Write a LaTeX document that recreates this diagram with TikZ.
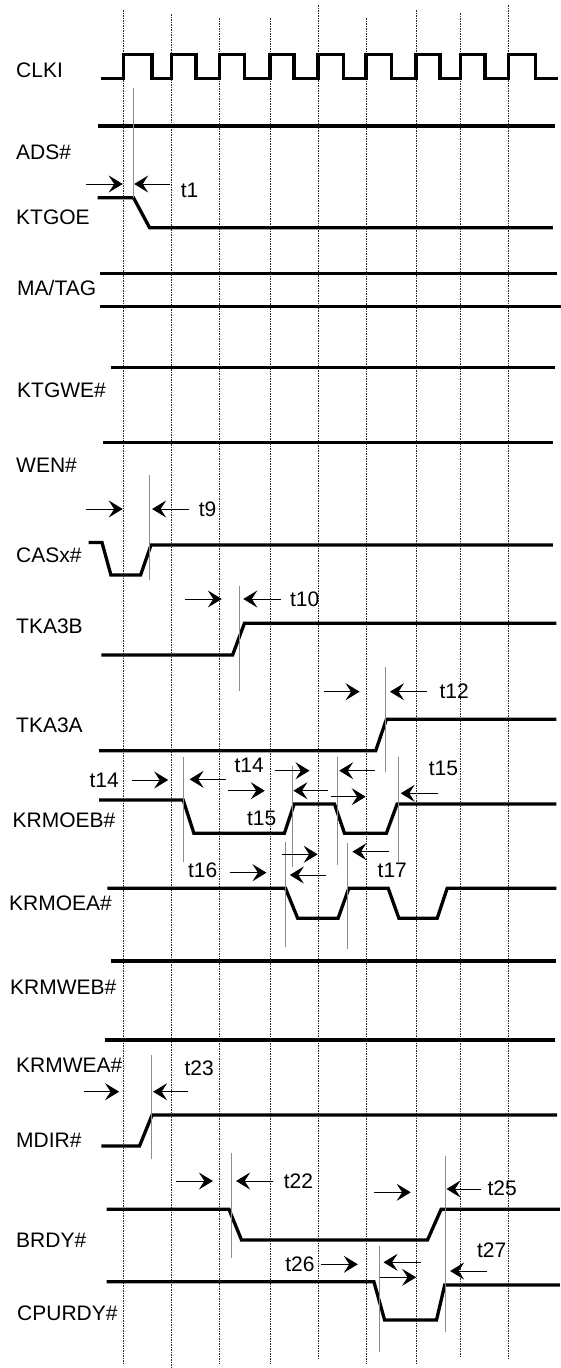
\documentclass[tikz,border=0pt]{standalone}
\usepackage{fontspec}
\setmainfont{Liberation Sans}
\usetikzlibrary{arrows.meta}
\begin{document}
\begin{tikzpicture}[x=1pt,y=-1pt,
 sigline/.style={line width=3.3pt, line join=miter, line cap=butt},
 gridline/.style={line width=0.9pt, dash pattern=on 1.5pt off 1pt, black!85},
 refline/.style={line width=1.1pt, black!45},
 dimarrow/.style={line width=0.9pt, -{Stealth[length=14pt,width=17pt,inset=5.5pt]}},
 lbl/.style={anchor=west, inner sep=0pt, font=\fontsize{21}{21}\selectfont, text height=15pt, text depth=0pt}]
\useasboundingbox (0,0) rectangle (561,1368);

% grid
\foreach \x/\a/\b in {123.4/10/1364, 171.7/14/1368, 219.3/18/1364, 270.1/18/1364, 318.1/5/1360, 366/18/1364, 416.1/10/1364, 460.5/13/1357, 508.4/5/1360}
  \draw[gridline] (\x,\a) -- (\x,\b);

% signal labels
\node[lbl] (lclk) at (16,70) {CLKI};
\node[lbl] (lads) at (16,152) {ADS\#};
\node[lbl] (lktgoe) at (16,217) {KTGOE};
\node[lbl] (lma) at (17,288.3) {MA/TAG};
\node[lbl] (lktgwe) at (17,390) {KTGWE\#};
\node[lbl] (lwen) at (16,465) {WEN\#};
\node[lbl] (lcas) at (16,555) {CASx\#};
\node[lbl] (ltkb) at (16,626) {TKA3B};
\node[lbl] (ltka) at (16,725) {TKA3A};
\node[lbl] (lkeb) at (12.5,820) {KRMOEB\#};
\node[lbl] (lkea) at (9,903.3) {KRMOEA\#};
\node[lbl] (lkwb) at (10,986.7) {KRMWEB\#};
\node[lbl] (lkwa) at (16,1065) {KRMWEA\#};
\node[lbl] (lmdir) at (16,1140) {MDIR\#};
\node[lbl] (lbrdy) at (16,1240) {BRDY\#};
\node[lbl] (lcpu) at (17,1313.3) {CPURDY\#};

% signals
\draw[sigline] (101.3,78.5) -| (123.4,54.5) -| (152.1,78.5) -| (171.7,54.5) -| (196.1,78.5) -| (219.3,54.5) -| (244.4,78.5) -| (270.1,54.5) -| (294.1,78.5) -| (318.1,54.5) -| (343.5,78.5) -| (366,54.5) -| (391.8,78.5) -| (416.1,54.5) -| (440.1,78.5) -| (460.5,54.5) -| (485.1,78.5) -| (508.4,54.5) -| (535.6,78.5) -- (558.1,78.5);
\draw[sigline] (97.7,126) -- (554.6,126);
\draw[sigline] (97.7,197.7) -- (133.5,197.7) -- (149.6,227.7) -- (552.8,227.7);
\draw[sigline] (100.2,273.3) -- (557,273.3);
\draw[sigline] (100.2,306.7) -- (561,306.7);
\draw[sigline] (110.9,367.3) -- (554.6,367.3);
\draw[sigline] (103,442.7) -- (552.8,442.7);
\draw[sigline] (88.7,542.5) -- (102,542.5) -- (110.9,575) -- (140.6,575) -- (151,545) -- (552.8,545);
\draw[sigline] (101.3,655) -- (232.6,655) -- (244.4,623.3) -- (556.3,623.3);
\draw[sigline] (99.1,750.7) -- (375.7,750.7) -- (386.4,719.3) -- (556.3,719.3);
\draw[sigline] (99.1,800) -- (183.2,800) -- (193.9,833.3) -- (284.4,833.3) -- (294.1,804) -- (334.5,804) -- (344.5,833.3) -- (386.4,833.3) -- (397.1,804) -- (556.3,804);
\draw[sigline] (107.3,888.3) -- (285.5,888.3) -- (297.7,918.3) -- (338.1,918.3) -- (348.8,888.3) -- (388.2,888.3) -- (398.9,918.3) -- (437.2,918.3) -- (447.2,888.3) -- (556.3,888.3);
\draw[sigline] (110.9,961) -- (556.3,961);
\draw[sigline] (104.8,1040) -- (554.6,1040);
\draw[sigline] (101.3,1146) -- (139.5,1146) -- (152.1,1115) -- (557,1115);
\draw[sigline] (106.6,1209.3) -- (229,1209.3) -- (241.5,1240) -- (427.5,1240) -- (441.1,1209.3) -- (559.9,1209.3);
\draw[sigline] (106.6,1281.7) -- (373.9,1281.7) -- (384.6,1320) -- (436.5,1320) -- (444.7,1285) -- (559.9,1285);

% reference lines
\foreach \x/\a/\b in {133.5/88/197.7, 149.6/475/580, 239.7/586/690.7, 385.3/667.3/771.7, 183.2/756.7/861.7, 292.3/766/866.7, 337.4/756.7/865, 398.2/757.3/861.7, 285.2/841.7/946.7, 347.8/843.3/949.3, 151.3/1055/1159.3, 231.8/1153.3/1258.3, 445.4/1156/1331.7, 379.2/1246/1351.7}
  \draw[refline] (\x,\a) -- (\x,\b);

% timing arrows and labels
\draw[dimarrow] (85.9,184) -- (122.7,184);
\draw[dimarrow] (170,184) -- (134.2,184);
\node[lbl] (t1) at (180.7,190) {t1};

\draw[dimarrow] (85.9,509) -- (122.7,509);
\draw[dimarrow] (188.9,509) -- (152.1,509);
\node[lbl] (t9) at (198.6,509) {t9};

\draw[dimarrow] (185.3,599) -- (221.8,599);
\draw[dimarrow] (280.9,599) -- (243.3,599);
\node[lbl] (t10) at (289.8,599) {t10};

\draw[dimarrow] (323.8,691.7) -- (359.6,691.7);
\draw[dimarrow] (426.5,691.7) -- (390,691.7);
\node[lbl] (t12) at (439.4,691) {t12};

\node[lbl] (t14a) at (89.4,780) {t14};
\draw[dimarrow] (132.4,780) -- (168.2,780);
\draw[dimarrow] (226.1,779.3) -- (189.6,779.3);
\node[lbl] (t14b) at (234.3,765) {t14};
\draw[dimarrow] (228.3,790.7) -- (264.8,790.7);
\node[lbl] (t15a) at (246.9,818.3) {t15};
\draw[dimarrow] (274.8,770.7) -- (309.5,770.7);
\draw[dimarrow] (328.4,790.7) -- (293.4,790.7);
\draw[dimarrow] (375,770.7) -- (339.2,770.7);
\draw[dimarrow] (331,796.7) -- (365.7,796.7);
\node[lbl] (t15b) at (428.6,768.3) {t15};
\draw[dimarrow] (438.3,793.3) -- (400.7,793.3);

\node[lbl] (t16) at (187.8,870) {t16};
\draw[dimarrow] (229.7,872.7) -- (266.5,872.7);
\draw[dimarrow] (281.9,854.3) -- (317.7,854.3);
\draw[dimarrow] (326.3,875) -- (289.8,875);
\draw[dimarrow] (388.9,851.7) -- (352.4,851.7);
\node[lbl] (t17) at (377.5,870) {t17};

\draw[dimarrow] (84.1,1091.7) -- (119.1,1091.7);
\draw[dimarrow] (187.8,1091.7) -- (153.1,1091.7);
\node[lbl] (t23) at (184.3,1068.3) {t23};

\draw[dimarrow] (176,1181) -- (212.9,1181);
\draw[dimarrow] (272.6,1181) -- (236.1,1181);
\node[lbl] (t22) at (283.7,1181) {t22};

\draw[dimarrow] (373.9,1192.3) -- (410.7,1192.3);
\draw[dimarrow] (480.5,1189) -- (446.5,1189);
\node[lbl] (t25) at (487.3,1188.3) {t25};

\node[lbl] (t26) at (285.2,1264.3) {t26};
\draw[dimarrow] (320.9,1264.3) -- (357.8,1264.3);
\draw[dimarrow] (421.1,1262.3) -- (383.5,1262.3);
\draw[dimarrow] (380.3,1277.3) -- (416.1,1277.3);
\node[lbl] (t27) at (476.9,1250) {t27};
\draw[dimarrow] (486.6,1271) -- (450.1,1271);
\end{tikzpicture}
\end{document}
